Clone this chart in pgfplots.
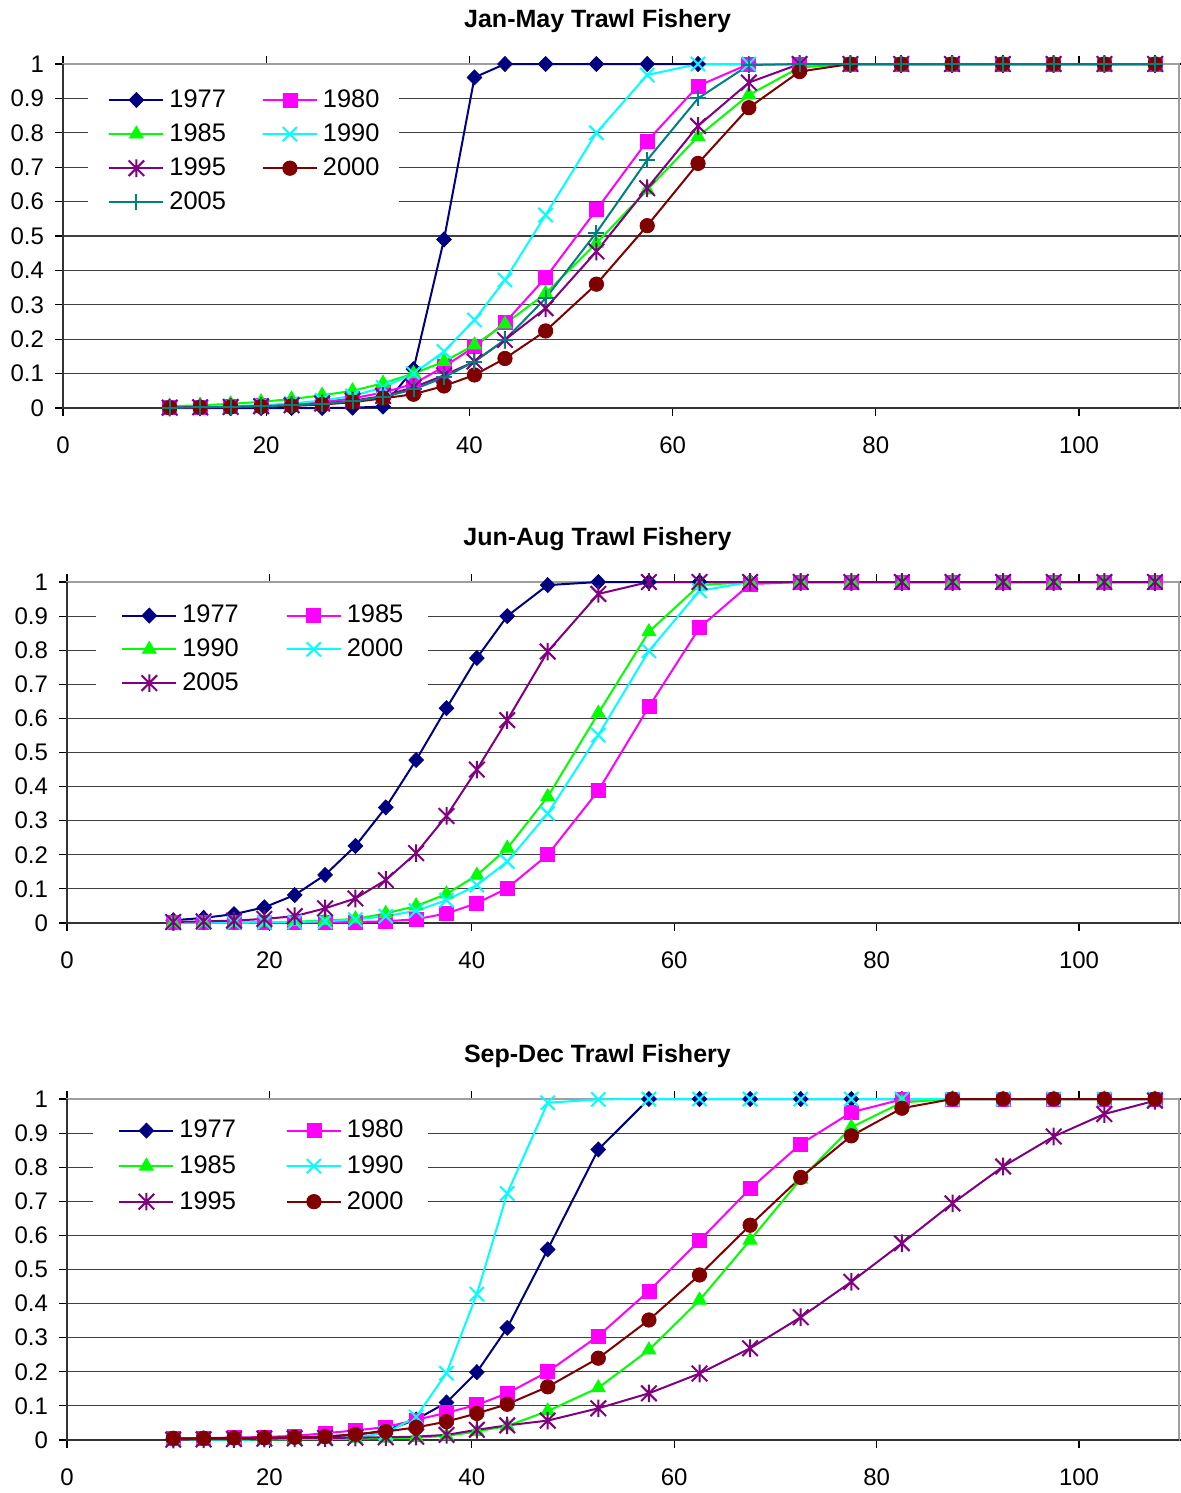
\documentclass[border=0pt]{standalone}
\usepackage{fontspec}
\setmainfont{Liberation Sans}
\usepackage{pgfplots}
\pgfplotsset{compat=1.18}
\usepackage{pgfplotstable}

\definecolor{cNavy}{RGB}{0,0,128}
\definecolor{cMag}{RGB}{255,0,255}
\definecolor{cGreen}{RGB}{0,255,0}
\definecolor{cCyan}{RGB}{0,255,255}
\definecolor{cPurple}{RGB}{128,0,128}
\definecolor{cDRed}{RGB}{128,0,0}
\definecolor{cTeal}{RGB}{0,128,128}

\pgfdeclareplotmark{xstar}{%
  \pgfpathmoveto{\pgfqpoint{-.7071\pgfplotmarksize}{-.7071\pgfplotmarksize}}%
  \pgfpathlineto{\pgfqpoint{.7071\pgfplotmarksize}{.7071\pgfplotmarksize}}%
  \pgfpathmoveto{\pgfqpoint{-.7071\pgfplotmarksize}{.7071\pgfplotmarksize}}%
  \pgfpathlineto{\pgfqpoint{.7071\pgfplotmarksize}{-.7071\pgfplotmarksize}}%
  \pgfpathmoveto{\pgfqpoint{0pt}{.8\pgfplotmarksize}}%
  \pgfpathlineto{\pgfqpoint{0pt}{-.8\pgfplotmarksize}}%
  \pgfusepathqstroke}

\pgfplotstableread{
x     a     b     c     d     e     f     g
10.5  0     0.001 0.005 0.002 0.001 0.001 0.001
13.5  0     0.002 0.008 0.003 0.002 0.002 0.002
16.5  0     0.004 0.012 0.005 0.003 0.003 0.003
19.5  0     0.007 0.018 0.008 0.005 0.004 0.005
22.5  0     0.011 0.026 0.013 0.008 0.006 0.008
25.5  0     0.017 0.037 0.022 0.013 0.010 0.012
28.5  0.001 0.028 0.050 0.035 0.021 0.017 0.020
31.5  0.004 0.045 0.072 0.060 0.035 0.028 0.032
34.5  0.113 0.070 0.100 0.100 0.060 0.040 0.054
37.5  0.490 0.120 0.135 0.164 0.095 0.064 0.089
40.5  0.961 0.178 0.183 0.256 0.135 0.096 0.135
43.5  1     0.248 0.244 0.372 0.198 0.144 0.198
47.5  1     0.379 0.333 0.561 0.290 0.224 0.319
52.5  1     0.576 0.479 0.800 0.455 0.360 0.510
57.5  1     0.776 0.634 0.968 0.639 0.530 0.721
62.5  1     0.936 0.789 1     0.820 0.711 0.900
67.5  1     1     0.910 1     0.946 0.873 0.997
72.5  1     1     0.990 1     1     0.978 1
77.5  1     1     1     1     1     1     1
82.5  1     1     1     1     1     1     1
87.5  1     1     1     1     1     1     1
92.5  1     1     1     1     1     1     1
97.5  1     1     1     1     1     1     1
102.5 1     1     1     1     1     1     1
107.5 1     1     1     1     1     1     1
}\tabA

\pgfplotstableread{
x     a     b     c     d     e
10.5  0.008 0.001 0.001 0.001 0.003
13.5  0.015 0.001 0.001 0.001 0.005
16.5  0.026 0.001 0.001 0.001 0.007
19.5  0.046 0.001 0.002 0.002 0.012
22.5  0.082 0.001 0.004 0.003 0.020
25.5  0.141 0.002 0.007 0.005 0.043
28.5  0.226 0.003 0.012 0.010 0.072
31.5  0.339 0.005 0.028 0.020 0.126
34.5  0.478 0.011 0.050 0.036 0.205
37.5  0.630 0.028 0.085 0.067 0.314
40.5  0.777 0.058 0.140 0.111 0.450
43.5  0.900 0.102 0.219 0.180 0.595
47.5  0.991 0.200 0.370 0.321 0.796
52.5  1     0.388 0.615 0.551 0.965
57.5  1     0.634 0.854 0.798 1
62.5  1     0.866 0.991 0.974 1
67.5  1     0.994 1     1     1
72.5  1     1     1     1     1
77.5  1     1     1     1     1
82.5  1     1     1     1     1
87.5  1     1     1     1     1
92.5  1     1     1     1     1
97.5  1     1     1     1     1
102.5 1     1     1     1     1
107.5 1     1     1     1     1
}\tabB

\pgfplotstableread{
x     a     b     c     d     e     f
10.5  0.002 0.005 0.001 0.001 0.001 0.005
13.5  0.003 0.006 0.001 0.001 0.002 0.005
16.5  0.004 0.007 0.001 0.001 0.003 0.006
19.5  0.005 0.009 0.002 0.002 0.004 0.007
22.5  0.007 0.012 0.002 0.003 0.005 0.008
25.5  0.010 0.020 0.003 0.004 0.006 0.010
28.5  0.015 0.028 0.004 0.008 0.007 0.017
31.5  0.028 0.038 0.005 0.020 0.008 0.025
34.5  0.060 0.059 0.007 0.068 0.010 0.037
37.5  0.110 0.080 0.012 0.196 0.015 0.054
40.5  0.199 0.103 0.025 0.428 0.030 0.078
43.5  0.329 0.137 0.041 0.723 0.043 0.105
47.5  0.559 0.200 0.085 0.989 0.057 0.156
52.5  0.852 0.305 0.153 0.999 0.093 0.240
57.5  1     0.437 0.264 1     0.137 0.352
62.5  1     0.585 0.410 1     0.195 0.484
67.5  1     0.737 0.586 1     0.269 0.630
72.5  1     0.868 0.765 1     0.360 0.770
77.5  1     0.961 0.917 1     0.464 0.892
82.5  1     0.999 0.990 1     0.577 0.973
87.5  1     1     1     1     0.694 1
92.5  1     1     1     1     0.802 1
97.5  1     1     1     1     0.890 1
102.5 1     1     1     1     0.956 1
107.5 1     1     1     1     0.995 1
}\tabC

\pgfplotsset{
  panel/.style={
    scale only axis, clip=false,
    xmin=0, ymin=0, ymax=1,
    xtick={0,20,40,60,80,100},
    ytick={0,0.1,0.2,0.3,0.4,0.5,0.6,0.7,0.8,0.9,1},
    ymajorgrids, major grid style={black!75,line width=0.55pt},
    tick align=outside, major tick length=4pt,
    tick style={black, line width=0.55pt},
    axis line style={gray!75, line width=0.9pt},
    ticklabel style={font=\fontsize{12}{14}\selectfont},
    /pgf/number format/assume math mode=true,
    xticklabel style={yshift=-7pt},
    yticklabel style={xshift=-2pt},
    title style={font=\bfseries\fontsize{12.5}{15}\selectfont, anchor=base},
    legend columns=2,
    legend cell align=left,
    legend image code/.code={\draw[mark repeat=2,mark phase=2,##1] plot coordinates {(0pt,0pt) (13.5pt,0pt) (27pt,0pt)};},
    legend style={draw=none, fill=white, anchor=north west,
      font=\fontsize{12.7}{15}\selectfont, column sep=2.5pt,
      inner ysep=2.7pt,
      nodes={inner xsep=0pt, inner ysep=3.35pt}},
  },
  sNavy/.style={cNavy, line width=1pt, mark=diamond*, mark size=3.75pt, mark options={solid, fill=cNavy, line width=0.4pt, xscale=1.3}},
  sMag/.style={cMag, line width=1pt, mark=square*, mark size=3.5pt, mark options={solid, fill=cMag, line width=0.4pt}},
  sGreen/.style={cGreen, line width=1pt, mark=triangle*, mark size=4pt, mark options={solid, fill=cGreen, line width=0.4pt}},
  sCyan/.style={cCyan, line width=1pt, mark=x, mark size=5pt, mark options={solid, line width=1pt}},
  sPurple/.style={cPurple, line width=1pt, mark=xstar, mark size=5.5pt, mark options={solid, line width=1pt}},
  sDRed/.style={cDRed, line width=1pt, mark=*, mark size=3.6pt, mark options={solid, fill=cDRed, line width=0.4pt}},
  sTeal/.style={cTeal, line width=1pt, mark=+, mark size=4pt, mark options={solid, line width=1pt}},
}

\begin{document}
\begin{tikzpicture}
\useasboundingbox (0,0) rectangle (590pt,-746.5pt);

% Panel 1
\begin{axis}[panel, at={(31.5pt,-204pt)}, anchor=south west,
  width=558pt, height=172pt, xmax=109.84,
  title={Jan-May Trawl Fishery},
  title style={at={(axis description cs:0.479,1)}, yshift=12.25pt},
  legend style={at={(axis description cs:0.0224,0.962)}, inner xsep=10pt,
    /tikz/every even column/.append style={column sep=18pt}},
]
\draw[black!80, line width=0.9pt] (rel axis cs:0,1) -- (rel axis cs:0,0) -- (rel axis cs:1,0);
\addplot[sNavy] table[x=x,y=a] {\tabA}; \addlegendentry{1977}
\addplot[sMag] table[x=x,y=b] {\tabA}; \addlegendentry{1980}
\addplot[sGreen] table[x=x,y=c] {\tabA}; \addlegendentry{1985}
\addplot[sCyan] table[x=x,y=d] {\tabA}; \addlegendentry{1990}
\addplot[sPurple] table[x=x,y=e] {\tabA}; \addlegendentry{1995}
\addplot[sDRed] table[x=x,y=f] {\tabA}; \addlegendentry{2000}
\addplot[sTeal] table[x=x,y=g] {\tabA}; \addlegendentry{2005}
\end{axis}

% Panel 2
\begin{axis}[panel, at={(33.5pt,-461.5pt)}, anchor=south west,
  width=556pt, height=170.5pt, xmax=109.88,
  title={Jun-Aug Trawl Fishery},
  title style={at={(axis description cs:0.477,1)}, yshift=12.25pt},
  legend style={at={(axis description cs:0.026,0.968)}, inner xsep=12.5pt,
    nodes={inner ysep=3.25pt},
    /tikz/every even column/.append style={column sep=23.5pt}},
]
\draw[black!80, line width=0.9pt] (rel axis cs:0,1) -- (rel axis cs:0,0) -- (rel axis cs:1,0);
\addplot[sNavy] table[x=x,y=a] {\tabB}; \addlegendentry{1977}
\addplot[sMag] table[x=x,y=b] {\tabB}; \addlegendentry{1985}
\addplot[sGreen] table[x=x,y=c] {\tabB}; \addlegendentry{1990}
\addplot[sCyan] table[x=x,y=d] {\tabB}; \addlegendentry{2000}
\addplot[sPurple] table[x=x,y=e] {\tabB}; \addlegendentry{2005}
\end{axis}

% Panel 3
\begin{axis}[panel, at={(33.5pt,-720pt)}, anchor=south west,
  width=556pt, height=170.5pt, xmax=109.88,
  title={Sep-Dec Trawl Fishery},
  title style={at={(axis description cs:0.477,1)}, yshift=12.25pt},
  legend style={at={(axis description cs:0.0234,0.9765)}, inner xsep=12.5pt,
    nodes={inner ysep=3.7pt},
    /tikz/every even column/.append style={column sep=25pt}},
]
\draw[black!80, line width=0.9pt] (rel axis cs:0,1) -- (rel axis cs:0,0) -- (rel axis cs:1,0);
\addplot[sNavy] table[x=x,y=a] {\tabC}; \addlegendentry{1977}
\addplot[sMag] table[x=x,y=b] {\tabC}; \addlegendentry{1980}
\addplot[sGreen] table[x=x,y=c] {\tabC}; \addlegendentry{1985}
\addplot[sCyan] table[x=x,y=d] {\tabC}; \addlegendentry{1990}
\addplot[sPurple] table[x=x,y=e] {\tabC}; \addlegendentry{1995}
\addplot[sDRed] table[x=x,y=f] {\tabC}; \addlegendentry{2000}
\end{axis}
\end{tikzpicture}
\end{document}
